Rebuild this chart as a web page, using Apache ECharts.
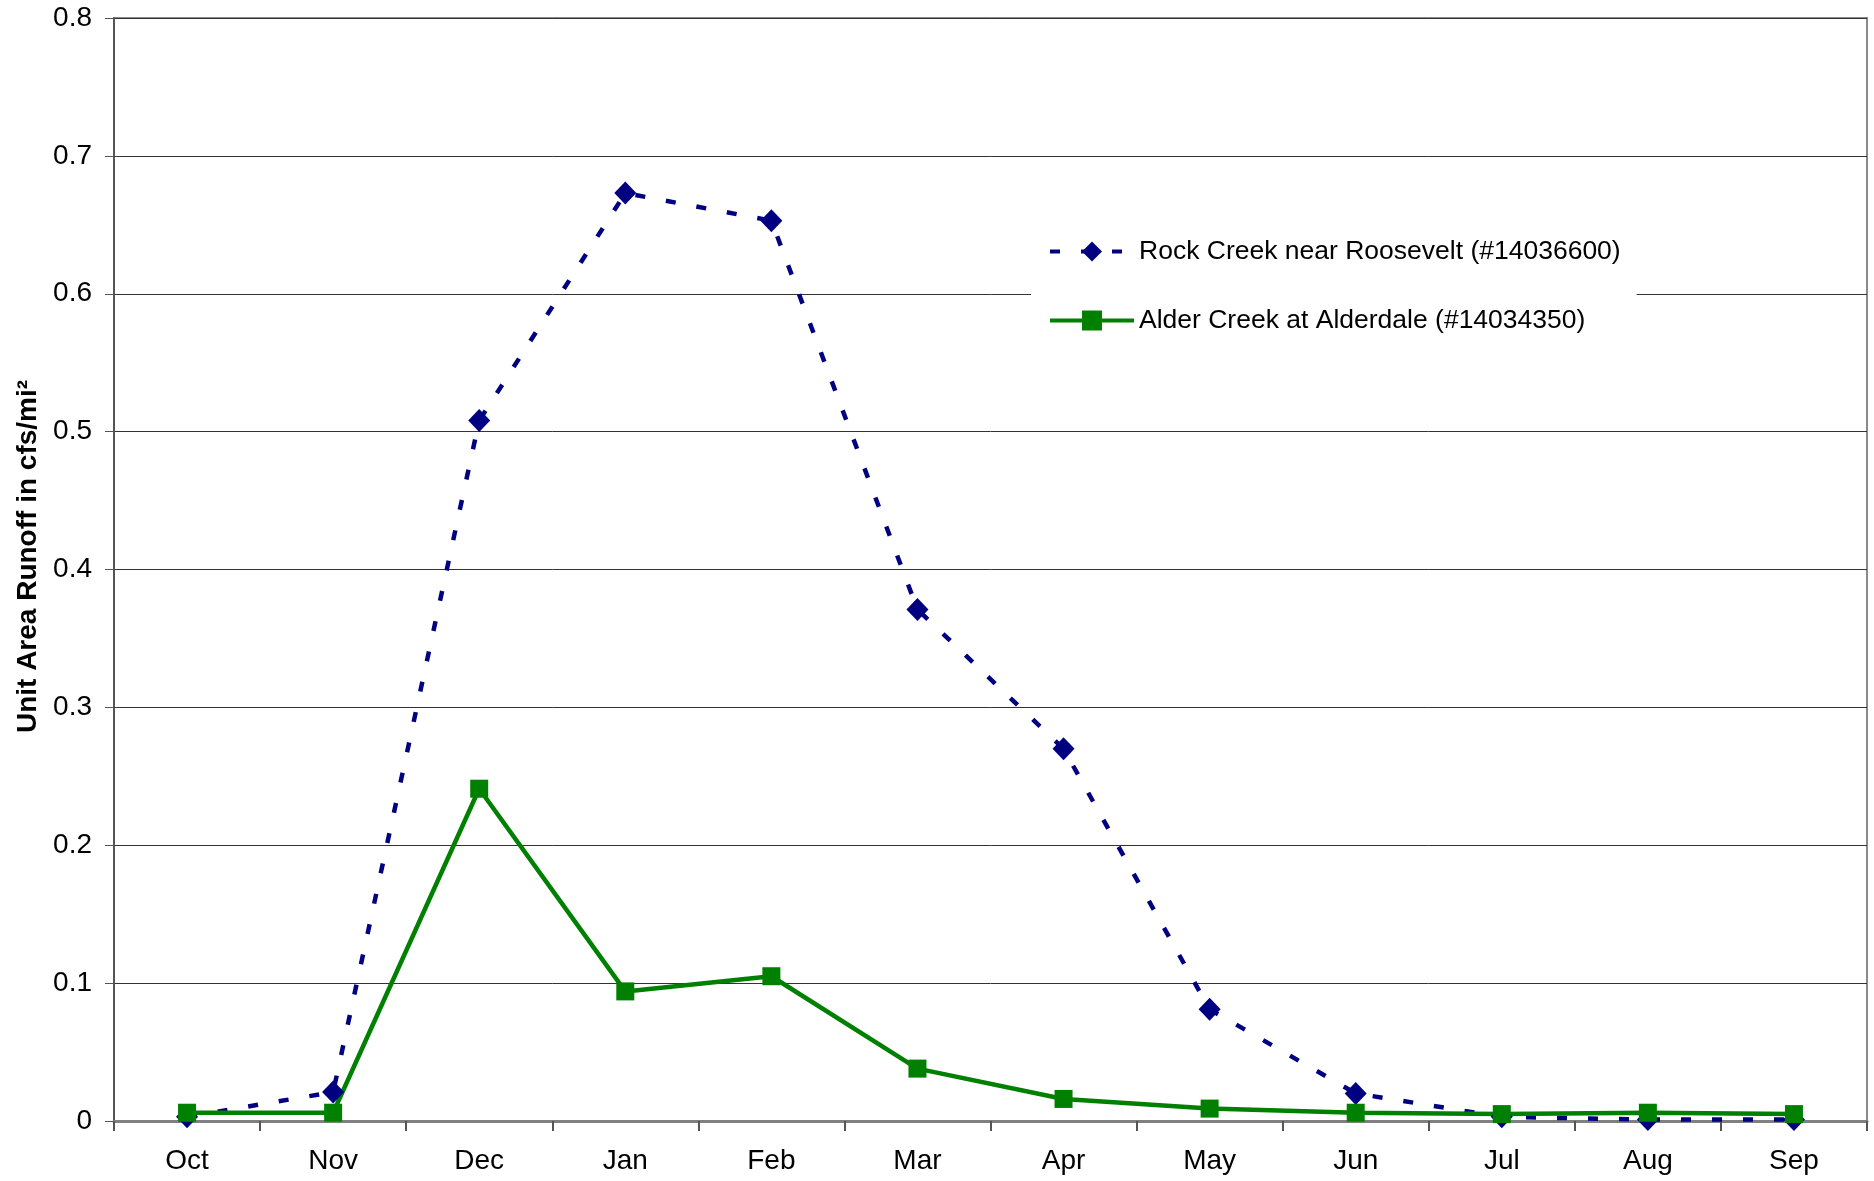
<!DOCTYPE html>
<html>
<head>
<meta charset="utf-8">
<script src="https://cdn.jsdelivr.net/npm/echarts@6/dist/echarts.min.js"></script>
<style>
  html, body { margin: 0; padding: 0; background: #fff; }
  #runoff-chart { width: 1874px; height: 1181px; }
</style>
</head>
<body>
<div id="runoff-chart"></div>
<script>
  // months of the water year
  var months = ['Oct', 'Nov', 'Dec', 'Jan', 'Feb', 'Mar', 'Apr', 'May', 'Jun', 'Jul', 'Aug', 'Sep']
  // unit area runoff, cfs/mi2
  var rockCreek = [0.003, 0.021, 0.508, 0.673, 0.653, 0.371, 0.270, 0.081, 0.020, 0.003, 0.001, 0.001]
  var alderCreek = [0.006, 0.006, 0.241, 0.094, 0.105, 0.038, 0.016, 0.009, 0.006, 0.005, 0.006, 0.005]
  var yTicks = { min: 0, max: 0.8, interval: 0.1 }

  var font = 'Liberation Sans, Arial, sans-serif'
  var chart = echarts.init(document.getElementById('runoff-chart'))

  var option = {
    textStyle: { fontFamily: font },
    grid: {
      left: 114,
      right: 7,
      top: 18,
      bottom: 60,
      show: true,
      borderColor: '#8a8a8a',
      borderWidth: 2,
      backgroundColor: '#fff'
    },
    legend: {
      orient: 'vertical',
      left: 1031,
      top: 218,
      padding: [20, 16, 20, 17],
      backgroundColor: '#fff',
      itemWidth: 84,
      itemHeight: 25,
      itemGap: 42,
      lineStyle: { width: 4 },
      textStyle: { fontSize: 26.5, color: '#000', fontFamily: font },
      data: ['Rock Creek near Roosevelt (#14036600)', 'Alder Creek at Alderdale (#14034350)']
    },
    xAxis: {
      type: 'category',
      data: months,
      boundaryGap: true,
      axisLine: { lineStyle: { color: '#808080', width: 3 } },
      axisTick: { show: true, length: 10, lineStyle: { color: '#555', width: 2 } },
      axisLabel: { color: '#000', fontSize: 28, margin: 26 },
      splitLine: { show: false }
    },
    yAxis: {
      type: 'value',
      min: yTicks.min,
      max: yTicks.max,
      interval: yTicks.interval,
      name: 'Unit Area Runoff in cfs/mi²',
      nameLocation: 'middle',
      nameGap: 68,
      nameTextStyle: { fontSize: 28, fontWeight: 'bold', color: '#000', padding: [0, 0, 0, 26] },
      axisLine: { show: true, lineStyle: { color: '#555', width: 2 } },
      axisTick: { show: true, length: 9, lineStyle: { color: '#555', width: 1 } },
      axisLabel: {
        color: '#000',
        fontSize: 28,
        margin: 22,
        formatter: function (v) { return v === 0 ? '0' : v.toFixed(1) }
      },
      splitLine: { show: true, lineStyle: { color: '#333', width: 1 } }
    },
    series: [
      {
        name: 'Rock Creek near Roosevelt (#14036600)',
        type: 'line',
        data: rockCreek,
        symbol: 'diamond',
        symbolSize: [22, 23],
        itemStyle: { color: '#000080' },
        lineStyle: { color: '#000080', width: 4.5, type: [10, 21] },
        animation: false
      },
      {
        name: 'Alder Creek at Alderdale (#14034350)',
        type: 'line',
        data: alderCreek,
        symbol: 'rect',
        symbolSize: 18,
        itemStyle: { color: '#008000' },
        lineStyle: { color: '#008000', width: 4.5 },
        animation: false
      }
    ]
  }
  chart.setOption(option)
</script>
</body>
</html>
